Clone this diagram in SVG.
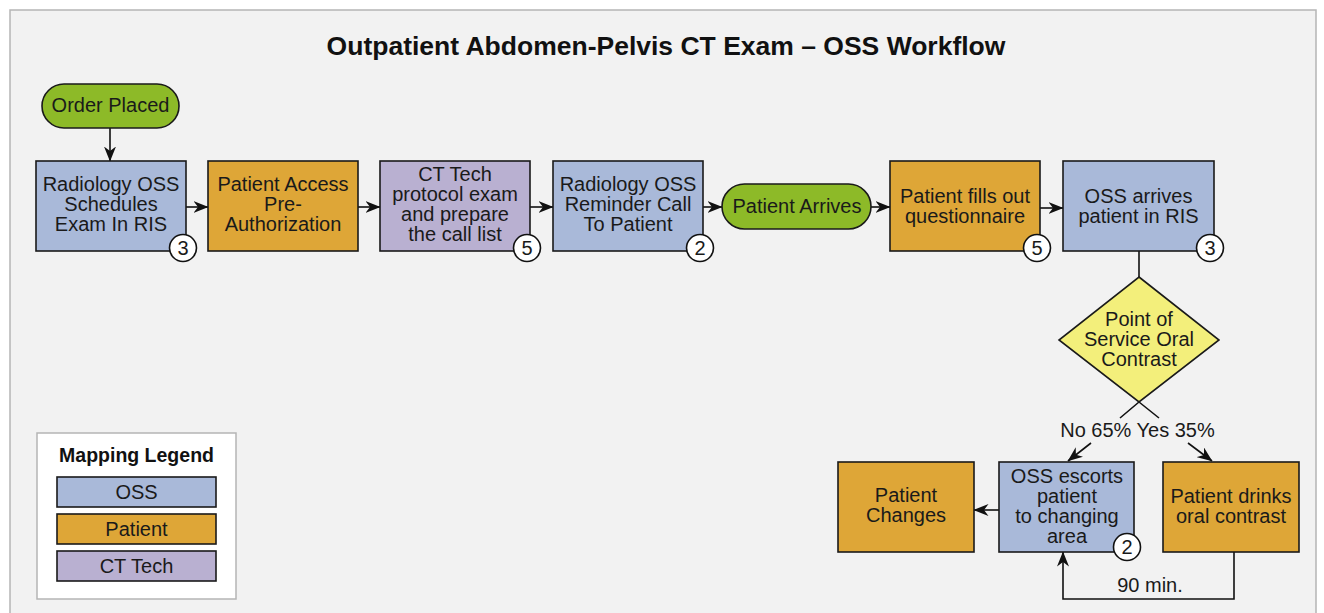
<svg xmlns="http://www.w3.org/2000/svg" width="1324" height="613" viewBox="0 0 1324 613">
<defs>
<marker id="ah" viewBox="0 0 15 12" refX="14.5" refY="6" markerWidth="15" markerHeight="12" markerUnits="userSpaceOnUse" orient="auto">
<path d="M0,0 L15,6 L0,12 L4.5,6 z" fill="#111"/>
</marker>
<style>
text{font-family:"Liberation Sans",Arial,sans-serif;font-size:20px;fill:#1a1a1a;text-anchor:middle}
.title{font-size:26.5px;font-weight:bold;fill:#111}
.lt{font-size:19.5px;font-weight:bold;fill:#111}
.box{stroke:#1a1a1a;stroke-width:1.6}
.oss{fill:#a9b9d9}
.pat{fill:#dea637}
.ct{fill:#b9b0d1}
.grn{fill:#8dba28}
.dia{fill:#f3ef7b}
.badge{fill:#fff;stroke:#111;stroke-width:1.6}
.cn{fill:none;stroke:#111;stroke-width:1.6}
</style>
</defs>
<rect x="10" y="10" width="1306" height="620" fill="#f2f2f2" stroke="#b5b5b5" stroke-width="1.5"/>
<text class="title" x="666" y="55">Outpatient Abdomen-Pelvis CT Exam – OSS Workflow</text>

<g id="connectors">
<path class="cn" d="M110,128 L110,161" marker-end="url(#ah)"/>
<path class="cn" d="M186,207 L208,207" marker-end="url(#ah)"/>
<path class="cn" d="M358,207 L380,207" marker-end="url(#ah)"/>
<path class="cn" d="M530,207 L553,207" marker-end="url(#ah)"/>
<path class="cn" d="M703,207 L722,207" marker-end="url(#ah)"/>
<path class="cn" d="M871,207 L890,207" marker-end="url(#ah)"/>
<path class="cn" d="M1040,208 L1063,208" marker-end="url(#ah)"/>
<path class="cn" d="M1139,251 L1139,277"/>
<path class="cn" d="M1139,402 L1120,418 M1091,443 L1068,461" marker-end="url(#ah)"/>
<path class="cn" d="M1139,402 L1159,418 M1188,443 L1212,461" marker-end="url(#ah)"/>
<path class="cn" d="M999,510 L974,510" marker-end="url(#ah)"/>
<path class="cn" d="M1234,552 L1234,599 L1063,599 L1063,552" marker-end="url(#ah)"/>
<text x="1137.5" y="437">No 65% Yes 35%</text>
<text x="1150" y="592">90 min.</text>
</g>

<g id="order-placed">
<rect class="box grn" x="42" y="84" width="137" height="44" rx="22"/>
<text x="110.5" y="112">Order Placed</text>
</g>

<g id="schedules">
<rect class="box oss" x="36" y="161" width="150" height="90"/>
<text x="111" y="191">Radiology OSS</text>
<text x="111" y="211">Schedules</text>
<text x="111" y="231">Exam In RIS</text>
<circle class="badge" cx="183" cy="248" r="13.5"/>
<text x="183" y="255">3</text>
</g>

<g id="pre-auth">
<rect class="box pat" x="208" y="161" width="150" height="90"/>
<text x="283" y="191">Patient Access</text>
<text x="283" y="211">Pre-</text>
<text x="283" y="231">Authorization</text>
</g>

<g id="ct-protocol">
<rect class="box ct" x="380" y="161" width="150" height="90"/>
<text x="455" y="181">CT Tech</text>
<text x="455" y="201">protocol exam</text>
<text x="455" y="221">and prepare</text>
<text x="455" y="241">the call list</text>
<circle class="badge" cx="527" cy="248" r="13.5"/>
<text x="527" y="255">5</text>
</g>

<g id="reminder">
<rect class="box oss" x="553" y="161" width="150" height="90"/>
<text x="628" y="191">Radiology OSS</text>
<text x="628" y="211">Reminder Call</text>
<text x="628" y="231">To Patient</text>
<circle class="badge" cx="700" cy="248" r="13.5"/>
<text x="700" y="255">2</text>
</g>

<g id="patient-arrives">
<rect class="box grn" x="722" y="184" width="149" height="45" rx="22.5"/>
<text x="797" y="213">Patient Arrives</text>
</g>

<g id="questionnaire">
<rect class="box pat" x="890" y="161" width="150" height="90"/>
<text x="965" y="203">Patient fills out</text>
<text x="965" y="223">questionnaire</text>
<circle class="badge" cx="1037" cy="248" r="13.5"/>
<text x="1037" y="255">5</text>
</g>

<g id="arrives-ris">
<rect class="box oss" x="1063" y="161" width="151" height="90"/>
<text x="1138.5" y="203">OSS arrives</text>
<text x="1138.5" y="223">patient in RIS</text>
<circle class="badge" cx="1210" cy="248" r="13.5"/>
<text x="1210" y="255">3</text>
</g>

<g id="decision">
<polygon class="box dia" points="1139,277 1219,340 1139,402 1059,340"/>
<text x="1139" y="326">Point of</text>
<text x="1139" y="346">Service Oral</text>
<text x="1139" y="366">Contrast</text>
</g>

<g id="patient-changes">
<rect class="box pat" x="838" y="462" width="136" height="90"/>
<text x="906" y="502">Patient</text>
<text x="906" y="522">Changes</text>
</g>

<g id="escorts">
<rect class="box oss" x="999" y="462" width="135" height="90"/>
<text x="1067" y="483">OSS escorts</text>
<text x="1067" y="503">patient</text>
<text x="1067" y="523">to changing</text>
<text x="1067" y="543">area</text>
<circle class="badge" cx="1127" cy="547" r="13.5"/>
<text x="1127" y="554">2</text>
</g>

<g id="drinks">
<rect class="box pat" x="1163" y="462" width="136" height="90"/>
<text x="1231" y="503">Patient drinks</text>
<text x="1231" y="523">oral contrast</text>
</g>

<g id="legend">
<rect x="37" y="433" width="199" height="166" fill="#fff" stroke="#b5b5b5" stroke-width="1.5"/>
<text class="lt" x="136.5" y="462">Mapping Legend</text>
<rect class="box oss" x="57" y="477" width="159" height="30"/>
<text x="136.5" y="499">OSS</text>
<rect class="box pat" x="57" y="514" width="159" height="30"/>
<text x="136.5" y="536">Patient</text>
<rect class="box ct" x="57" y="551" width="159" height="30"/>
<text x="136.5" y="573">CT Tech</text>
</g>
</svg>
